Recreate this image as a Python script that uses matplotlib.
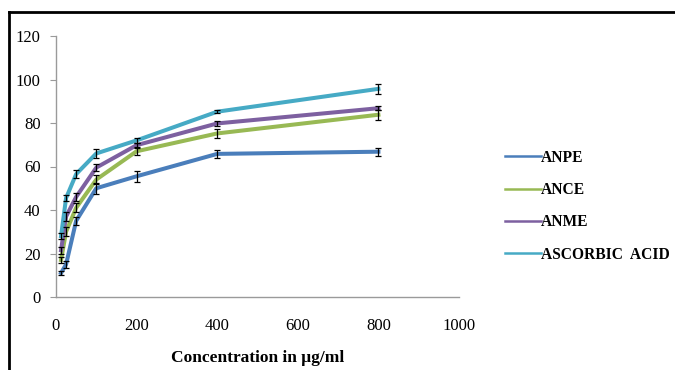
import matplotlib
matplotlib.use("Agg")
import matplotlib.pyplot as plt
from matplotlib.lines import Line2D

# concentrations (ug/ml)
conc = [12.5, 25, 50, 100, 200, 400, 800]

# % scavenging
anpe = [11, 15, 35, 50, 55.5, 65.8, 66.8]
ance = [17, 30, 41, 54, 67, 75.2, 83.8]
anme = [21.5, 37, 46, 59.5, 69.8, 79.8, 86.8]
ascorbic = [28, 45.5, 56.5, 66, 72, 85.2, 95.7]

anpe_err = [1, 1.5, 2, 2.5, 2.5, 2, 1.8]
ance_err = [1.5, 2, 2, 2, 1.5, 2, 2.2]
anme_err = [1.5, 2, 2, 1.5, 1, 1, 1]
ascorbic_err = [1.5, 1.5, 2, 2, 1, 0.8, 2.4]

names = ["ANPE", "ANCE", "ANME", "ASCORBIC  ACID"]
colors = ["#4A7EBB", "#98B954", "#7D60A0", "#46AAC5"]

plt.rcParams["font.family"] = ["Liberation Serif", "DejaVu Serif"]

fig = plt.figure(figsize=(6.75, 3.7), dpi=100)
ax = fig.add_axes([56 / 675, 1 - 297 / 370, (459 - 56) / 675, (297 - 36) / 370])

series = [(anpe, anpe_err), (ance, ance_err), (anme, anme_err), (ascorbic, ascorbic_err)]
for (vals, errs), c in zip(series, colors):
    ax.plot(conc, vals, color=c, lw=2.9, solid_joinstyle="round", zorder=2)
    ax.errorbar(conc, vals, yerr=errs, fmt="none", ecolor="black",
                elinewidth=0.9, capsize=2.5, capthick=0.9, zorder=3)

ax.set_xlim(0, 1000)
ax.set_ylim(0, 120)
ax.set_xticks([0, 200, 400, 600, 800, 1000])
ax.set_yticks([0, 20, 40, 60, 80, 100, 120])
for s in ["top", "right"]:
    ax.spines[s].set_visible(False)
for s in ["left", "bottom"]:
    ax.spines[s].set_color("#9a9a9a")
    ax.spines[s].set_linewidth(1.0)
ax.tick_params(axis="x", length=0, pad=15, labelsize=12)
ax.tick_params(axis="y", length=4, color="#9a9a9a", pad=7, labelsize=12)

ax.set_xlabel("Concentration in μg/ml", fontsize=12.5, fontweight="bold", labelpad=12)

handles = [Line2D([], [], color=c, lw=1.8) for c in colors]
leg = fig.legend(handles, names, loc="upper left",
                 bbox_to_anchor=(497 / 675, 1 - 142 / 370),
                 frameon=False, handlelength=2.3, handletextpad=0.05,
                 labelspacing=1.05, borderpad=0,
                 prop={"weight": "bold", "size": 11.2})

# outer frame of the figure
fig.add_artist(Line2D([9 / 675, 9 / 675], [0, 1 - 12 / 370], color="black", lw=2,
                      transform=fig.transFigure))
fig.add_artist(Line2D([9 / 675, 1], [1 - 12 / 370, 1 - 12 / 370], color="black", lw=2,
                      transform=fig.transFigure))

fig.savefig("out.png", dpi=100)
